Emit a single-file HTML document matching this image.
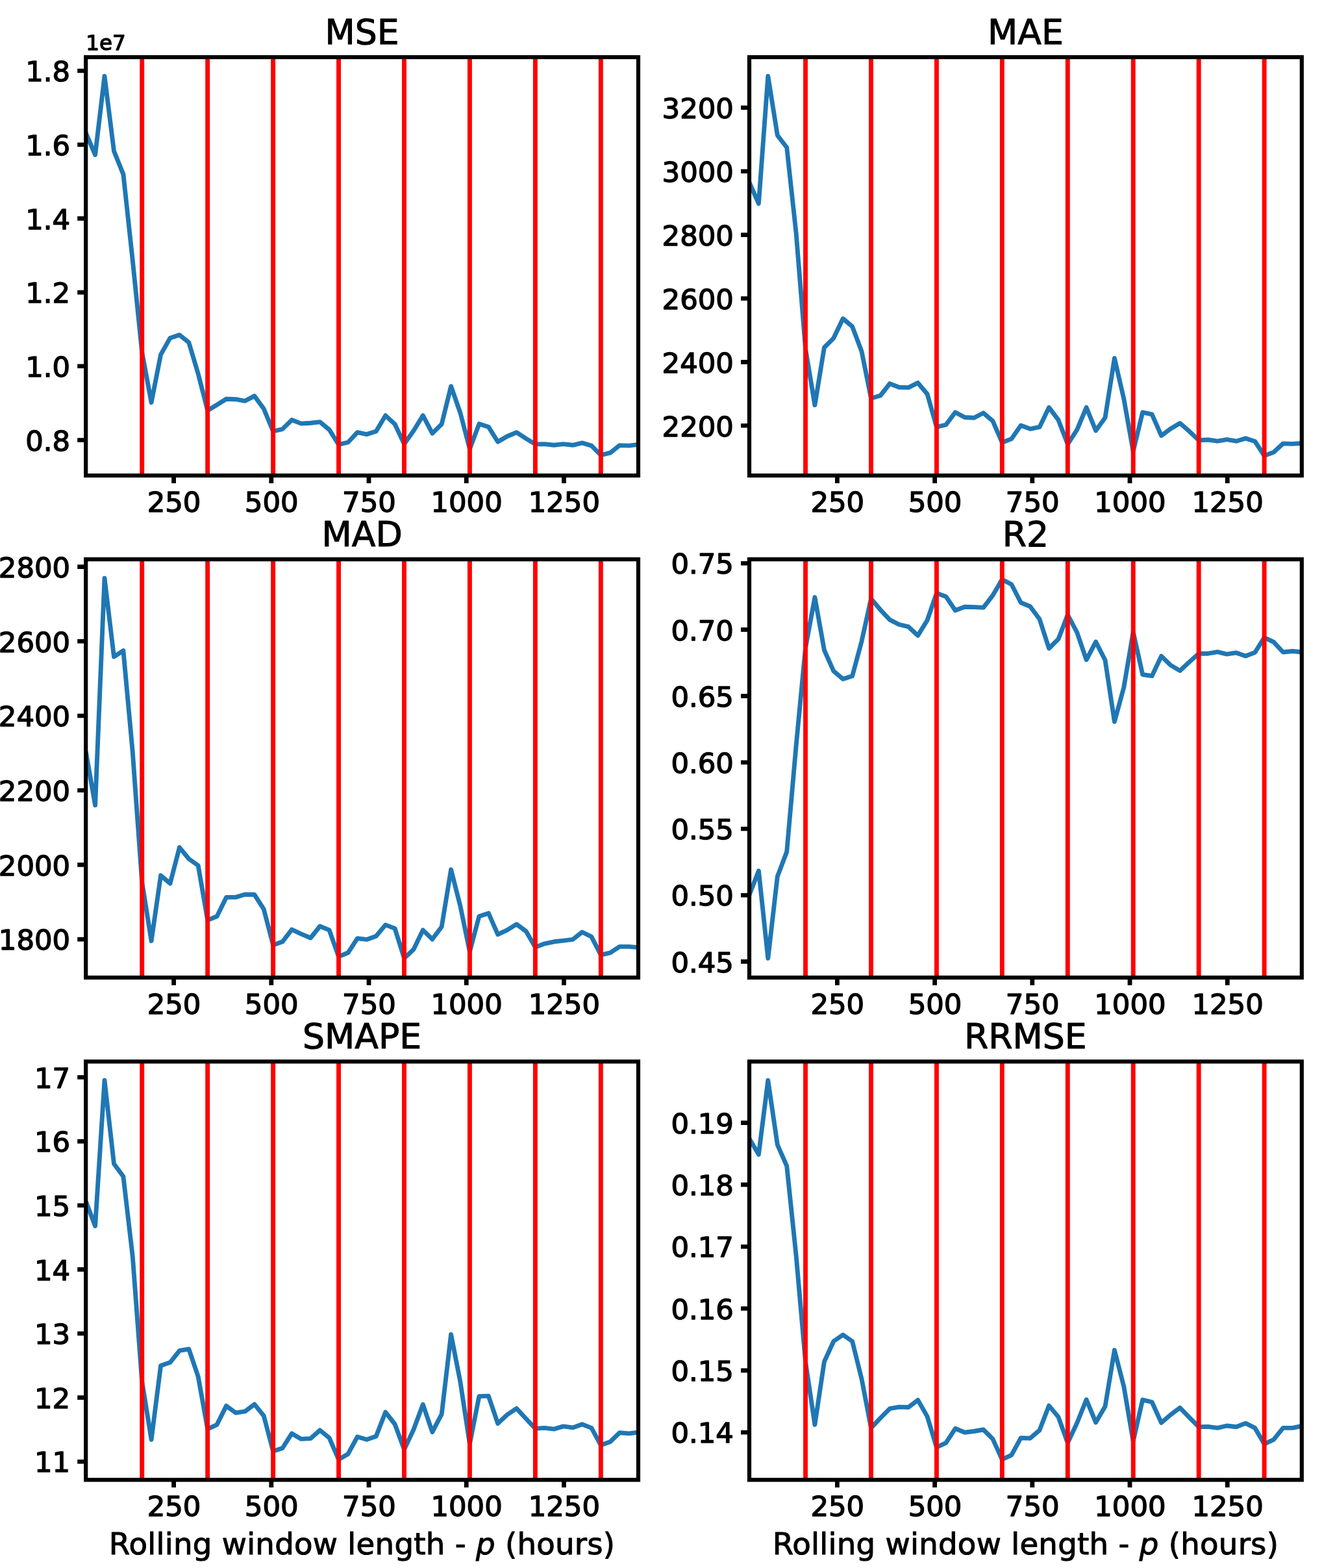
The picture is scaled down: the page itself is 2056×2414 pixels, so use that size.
<!DOCTYPE html>
<html lang="en"><head><meta charset="utf-8"><title>Error metrics vs rolling window length</title>
<style>
html,body{margin:0;padding:0;background:#fff;}
body{width:2056px;height:2414px;overflow:hidden;}
svg{display:block;filter:blur(0.45px);}
text{font-family:"DejaVu Sans","Liberation Sans",sans-serif;fill:#000;stroke:#000;stroke-width:1.4px;stroke-linejoin:round;}
.tk{font-size:43.33px;}
.tt{font-size:53.6px;text-anchor:middle;stroke-width:1.1px;}
.of{font-size:32.6px;}
.xl{font-size:46.67px;text-anchor:middle;letter-spacing:0.26px;stroke-width:1.05px;}
.xt{text-anchor:middle;}.yt{text-anchor:end;}
.sp{fill:none;stroke:#000;stroke-width:6.2;stroke-linejoin:miter;}
.tm{stroke:#000;stroke-width:6.2;fill:none;}
.vl{stroke:#ff0000;stroke-width:6.9;fill:none;}
.ln{stroke:#1f77b4;stroke-width:6.9;fill:none;stroke-linejoin:round;stroke-linecap:butt;}
</style></head><body>
<svg width="2056" height="2414" viewBox="0 0 2056 2414">
<rect x="0" y="0" width="2056" height="2414" fill="#ffffff"/>
<defs>
<clipPath id="c0"><rect x="132.20" y="88.00" width="850.80" height="644.10"/></clipPath>
<clipPath id="c1"><rect x="1154.00" y="88.00" width="850.80" height="644.10"/></clipPath>
<clipPath id="c2"><rect x="132.20" y="861.10" width="850.80" height="643.90"/></clipPath>
<clipPath id="c3"><rect x="1154.00" y="861.10" width="850.80" height="643.90"/></clipPath>
<clipPath id="c4"><rect x="132.20" y="1634.30" width="850.80" height="644.00"/></clipPath>
<clipPath id="c5"><rect x="1154.00" y="1634.30" width="850.80" height="644.00"/></clipPath>
</defs>
<g id="ax-mse">
<polyline class="ln" clip-path="url(#c0)" points="132.2,204.6 146.6,238.3 161.0,117.2 175.5,232.6 189.9,268.4 204.3,401.0 218.7,542.5 233.1,619.5 247.6,545.9 262.0,520.4 276.4,515.6 290.8,527.2 305.2,575.6 319.7,632.0 334.1,623.2 348.5,614.2 362.9,614.7 377.3,617.3 391.8,609.6 406.2,629.2 420.6,664.0 435.0,660.6 449.4,646.5 463.9,652.1 478.3,651.3 492.7,649.6 507.1,661.5 521.5,684.4 536.0,681.0 550.4,665.7 564.8,668.6 579.2,664.0 593.7,639.7 608.1,653.0 622.5,683.6 636.9,663.2 651.3,639.7 665.8,667.1 680.2,653.0 694.6,594.7 709.0,636.0 723.4,691.2 737.9,652.6 752.3,657.2 766.7,680.2 781.1,671.7 795.5,665.7 810.0,675.1 824.4,683.9 838.8,683.6 853.2,685.3 867.6,683.6 882.1,685.3 896.5,681.9 910.9,686.1 925.3,700.6 939.7,697.2 954.2,685.6 968.6,686.1 983.0,684.4"/>
<path class="vl" d="M218.72 88.00V732.10M319.66 88.00V732.10M420.61 88.00V732.10M521.55 88.00V732.10M622.49 88.00V732.10M723.43 88.00V732.10M824.38 88.00V732.10M925.32 88.00V732.10"/>
<path class="tm" style="stroke-width:6.8" d="M267.59 732.10v11.80M417.80 732.10v11.80M568.02 732.10v11.80M718.23 732.10v11.80M868.44 732.10v11.80"/>
<path class="tm" style="stroke-width:6.6" d="M132.20 109.00h-13.00M132.20 222.70h-13.00M132.20 336.40h-13.00M132.20 450.10h-13.00M132.20 563.80h-13.00M132.20 677.50h-13.00"/>
<rect class="sp" x="132.20" y="88.00" width="850.80" height="644.10"/>
<text class="tk xt" x="267.99" y="788.00">250</text>
<text class="tk xt" x="418.20" y="788.00">500</text>
<text class="tk xt" x="568.42" y="788.00">750</text>
<text class="tk xt" x="718.63" y="788.00">1000</text>
<text class="tk xt" x="868.84" y="788.00">1250</text>
<text class="tk yt" x="108.10" y="125.20">1.8</text>
<text class="tk yt" x="108.10" y="238.90">1.6</text>
<text class="tk yt" x="108.10" y="352.60">1.4</text>
<text class="tk yt" x="108.10" y="466.30">1.2</text>
<text class="tk yt" x="108.10" y="580.00">1.0</text>
<text class="tk yt" x="108.10" y="693.70">0.8</text>
<text class="of" x="132.20" y="77.40">1e7</text>
<text class="tt" x="557.60" y="68.00">MSE</text>
</g>
<g id="ax-mae">
<polyline class="ln" clip-path="url(#c1)" points="1154.0,281.0 1168.4,313.3 1182.8,117.2 1197.3,208.3 1211.7,227.0 1226.1,359.0 1240.5,536.7 1254.9,623.6 1269.4,535.0 1283.8,520.6 1298.2,490.5 1312.6,502.7 1327.0,541.0 1341.5,613.2 1355.9,609.0 1370.3,590.6 1384.7,596.2 1399.1,596.6 1413.6,589.4 1428.0,606.4 1442.4,657.4 1456.8,654.0 1471.2,634.8 1485.7,642.5 1500.1,643.3 1514.5,635.8 1528.9,648.1 1543.3,681.2 1557.8,675.6 1572.2,654.9 1586.6,660.3 1601.0,657.4 1615.5,627.3 1629.9,646.4 1644.3,683.8 1658.7,661.7 1673.1,627.3 1687.6,663.0 1702.0,643.0 1716.4,551.5 1730.8,614.1 1745.2,694.8 1759.7,634.8 1774.1,637.9 1788.5,670.7 1802.9,660.0 1817.3,651.5 1831.8,664.2 1846.2,677.8 1860.6,677.0 1875.0,679.2 1889.4,676.6 1903.9,679.2 1918.3,674.9 1932.7,679.5 1947.1,701.6 1961.5,696.2 1976.0,682.9 1990.4,683.4 2004.8,682.4"/>
<path class="vl" d="M1240.52 88.00V732.10M1341.46 88.00V732.10M1442.41 88.00V732.10M1543.35 88.00V732.10M1644.29 88.00V732.10M1745.23 88.00V732.10M1846.18 88.00V732.10M1947.12 88.00V732.10"/>
<path class="tm" style="stroke-width:6.8" d="M1289.39 732.10v11.80M1439.60 732.10v11.80M1589.82 732.10v11.80M1740.03 732.10v11.80M1890.24 732.10v11.80"/>
<path class="tm" style="stroke-width:6.6" d="M1154.00 165.80h-13.00M1154.00 263.70h-13.00M1154.00 361.60h-13.00M1154.00 459.50h-13.00M1154.00 557.40h-13.00M1154.00 655.30h-13.00"/>
<rect class="sp" x="1154.00" y="88.00" width="850.80" height="644.10"/>
<text class="tk xt" x="1289.79" y="788.00">250</text>
<text class="tk xt" x="1440.00" y="788.00">500</text>
<text class="tk xt" x="1590.22" y="788.00">750</text>
<text class="tk xt" x="1740.43" y="788.00">1000</text>
<text class="tk xt" x="1890.64" y="788.00">1250</text>
<text class="tk yt" x="1129.90" y="182.00">3200</text>
<text class="tk yt" x="1129.90" y="279.90">3000</text>
<text class="tk yt" x="1129.90" y="377.80">2800</text>
<text class="tk yt" x="1129.90" y="475.70">2600</text>
<text class="tk yt" x="1129.90" y="573.60">2400</text>
<text class="tk yt" x="1129.90" y="671.50">2200</text>
<text class="tt" x="1579.40" y="68.00">MAE</text>
</g>
<g id="ax-mad">
<polyline class="ln" clip-path="url(#c2)" points="132.2,1157.0 146.6,1239.6 161.0,890.2 175.5,1011.1 189.9,1001.7 204.3,1158.2 218.7,1358.0 233.1,1448.6 247.6,1347.8 262.0,1360.2 276.4,1304.6 290.8,1322.3 305.2,1332.5 319.7,1416.6 334.1,1410.7 348.5,1381.4 362.9,1381.4 377.3,1377.0 391.8,1377.2 406.2,1399.6 420.6,1454.9 435.0,1449.8 449.4,1431.1 463.9,1437.9 478.3,1444.0 492.7,1426.0 507.1,1431.9 521.5,1472.7 536.0,1466.8 550.4,1444.7 564.8,1446.4 579.2,1441.3 593.7,1423.9 608.1,1429.4 622.5,1475.3 636.9,1461.7 651.3,1431.9 665.8,1446.0 680.2,1426.8 694.6,1338.8 709.0,1395.4 723.4,1465.1 737.9,1410.7 752.3,1405.9 766.7,1438.7 781.1,1431.9 795.5,1422.9 810.0,1433.6 824.4,1458.3 838.8,1452.8 853.2,1449.8 867.6,1448.1 882.1,1446.4 896.5,1435.0 910.9,1442.1 925.3,1470.2 939.7,1466.8 954.2,1457.4 968.6,1457.4 983.0,1458.6"/>
<path class="vl" d="M218.72 861.10V1505.00M319.66 861.10V1505.00M420.61 861.10V1505.00M521.55 861.10V1505.00M622.49 861.10V1505.00M723.43 861.10V1505.00M824.38 861.10V1505.00M925.32 861.10V1505.00"/>
<path class="tm" style="stroke-width:6.8" d="M267.59 1505.00v11.80M417.80 1505.00v11.80M568.02 1505.00v11.80M718.23 1505.00v11.80M868.44 1505.00v11.80"/>
<path class="tm" style="stroke-width:6.6" d="M132.20 872.60h-13.00M132.20 987.30h-13.00M132.20 1102.00h-13.00M132.20 1216.70h-13.00M132.20 1331.40h-13.00M132.20 1446.10h-13.00"/>
<rect class="sp" x="132.20" y="861.10" width="850.80" height="643.90"/>
<text class="tk xt" x="267.99" y="1560.90">250</text>
<text class="tk xt" x="418.20" y="1560.90">500</text>
<text class="tk xt" x="568.42" y="1560.90">750</text>
<text class="tk xt" x="718.63" y="1560.90">1000</text>
<text class="tk xt" x="868.84" y="1560.90">1250</text>
<text class="tk yt" x="108.10" y="888.80">2800</text>
<text class="tk yt" x="108.10" y="1003.50">2600</text>
<text class="tk yt" x="108.10" y="1118.20">2400</text>
<text class="tk yt" x="108.10" y="1232.90">2200</text>
<text class="tk yt" x="108.10" y="1347.60">2000</text>
<text class="tk yt" x="108.10" y="1462.30">1800</text>
<text class="tt" x="557.60" y="841.10">MAD</text>
</g>
<g id="ax-r2">
<polyline class="ln" clip-path="url(#c3)" points="1154.0,1377.8 1168.4,1340.7 1182.8,1475.3 1197.3,1349.5 1211.7,1311.2 1226.1,1148.0 1240.5,997.5 1254.9,919.6 1269.4,1000.9 1283.8,1033.2 1298.2,1045.4 1312.6,1040.8 1327.0,987.3 1341.5,921.7 1355.9,938.8 1370.3,954.1 1384.7,961.5 1399.1,964.9 1413.6,978.4 1428.0,955.0 1442.4,913.3 1456.8,918.4 1471.2,939.7 1485.7,934.3 1500.1,934.6 1514.5,935.4 1528.9,916.7 1543.3,892.1 1557.8,899.7 1572.2,927.8 1586.6,933.7 1601.0,953.3 1615.5,998.3 1629.9,983.9 1644.3,946.5 1658.7,973.7 1673.1,1015.8 1687.6,988.1 1702.0,1016.2 1716.4,1111.1 1730.8,1058.1 1745.2,973.1 1759.7,1038.5 1774.1,1040.7 1788.5,1010.1 1802.9,1024.1 1817.3,1032.6 1831.8,1019.0 1846.2,1006.2 1860.6,1006.2 1875.0,1003.7 1889.4,1007.1 1903.9,1004.9 1918.3,1010.0 1932.7,1004.5 1947.1,981.6 1961.5,988.4 1976.0,1004.0 1990.4,1002.5 2004.8,1004.0"/>
<path class="vl" d="M1240.52 861.10V1505.00M1341.46 861.10V1505.00M1442.41 861.10V1505.00M1543.35 861.10V1505.00M1644.29 861.10V1505.00M1745.23 861.10V1505.00M1846.18 861.10V1505.00M1947.12 861.10V1505.00"/>
<path class="tm" style="stroke-width:6.8" d="M1289.39 1505.00v11.80M1439.60 1505.00v11.80M1589.82 1505.00v11.80M1740.03 1505.00v11.80M1890.24 1505.00v11.80"/>
<path class="tm" style="stroke-width:6.6" d="M1154.00 867.20h-13.00M1154.00 969.40h-13.00M1154.00 1071.60h-13.00M1154.00 1173.80h-13.00M1154.00 1276.00h-13.00M1154.00 1378.20h-13.00M1154.00 1480.40h-13.00"/>
<rect class="sp" x="1154.00" y="861.10" width="850.80" height="643.90"/>
<text class="tk xt" x="1289.79" y="1560.90">250</text>
<text class="tk xt" x="1440.00" y="1560.90">500</text>
<text class="tk xt" x="1590.22" y="1560.90">750</text>
<text class="tk xt" x="1740.43" y="1560.90">1000</text>
<text class="tk xt" x="1890.64" y="1560.90">1250</text>
<text class="tk yt" x="1129.90" y="883.40">0.75</text>
<text class="tk yt" x="1129.90" y="985.60">0.70</text>
<text class="tk yt" x="1129.90" y="1087.80">0.65</text>
<text class="tk yt" x="1129.90" y="1190.00">0.60</text>
<text class="tk yt" x="1129.90" y="1292.20">0.55</text>
<text class="tk yt" x="1129.90" y="1394.40">0.50</text>
<text class="tk yt" x="1129.90" y="1496.60">0.45</text>
<text class="tt" x="1579.40" y="841.10">R2</text>
</g>
<g id="ax-smape">
<polyline class="ln" clip-path="url(#c4)" points="132.2,1849.6 146.6,1887.5 161.0,1663.2 175.5,1791.7 189.9,1811.3 204.3,1934.6 218.7,2127.0 233.1,2216.3 247.6,2102.4 262.0,2097.6 276.4,2079.4 290.8,2076.9 305.2,2119.4 319.7,2200.1 334.1,2193.3 348.5,2164.4 362.9,2175.1 377.3,2172.9 391.8,2161.9 406.2,2179.7 420.6,2234.1 435.0,2229.5 449.4,2206.9 463.9,2215.4 478.3,2214.6 492.7,2201.8 507.1,2213.7 521.5,2246.9 536.0,2238.4 550.4,2212.0 564.8,2216.3 579.2,2211.2 593.7,2174.1 608.1,2192.5 622.5,2231.6 636.9,2201.0 651.3,2162.2 665.8,2204.7 680.2,2177.2 694.6,2054.5 709.0,2127.9 723.4,2223.1 737.9,2149.6 752.3,2149.1 766.7,2191.6 781.1,2178.0 795.5,2168.3 810.0,2184.0 824.4,2199.3 838.8,2198.4 853.2,2200.1 867.6,2195.9 882.1,2197.9 896.5,2192.8 910.9,2198.4 925.3,2224.8 939.7,2219.7 954.2,2205.7 968.6,2206.9 983.0,2205.2"/>
<path class="vl" d="M218.72 1634.30V2278.30M319.66 1634.30V2278.30M420.61 1634.30V2278.30M521.55 1634.30V2278.30M622.49 1634.30V2278.30M723.43 1634.30V2278.30M824.38 1634.30V2278.30M925.32 1634.30V2278.30"/>
<path class="tm" style="stroke-width:6.8" d="M267.59 2278.30v11.80M417.80 2278.30v11.80M568.02 2278.30v11.80M718.23 2278.30v11.80M868.44 2278.30v11.80"/>
<path class="tm" style="stroke-width:6.6" d="M132.20 1658.50h-13.00M132.20 1757.12h-13.00M132.20 1855.73h-13.00M132.20 1954.35h-13.00M132.20 2052.97h-13.00M132.20 2151.58h-13.00M132.20 2250.20h-13.00"/>
<rect class="sp" x="132.20" y="1634.30" width="850.80" height="644.00"/>
<text class="tk xt" x="267.99" y="2334.20">250</text>
<text class="tk xt" x="418.20" y="2334.20">500</text>
<text class="tk xt" x="568.42" y="2334.20">750</text>
<text class="tk xt" x="718.63" y="2334.20">1000</text>
<text class="tk xt" x="868.84" y="2334.20">1250</text>
<text class="tk yt" x="108.10" y="1674.70">17</text>
<text class="tk yt" x="108.10" y="1773.32">16</text>
<text class="tk yt" x="108.10" y="1871.93">15</text>
<text class="tk yt" x="108.10" y="1970.55">14</text>
<text class="tk yt" x="108.10" y="2069.17">13</text>
<text class="tk yt" x="108.10" y="2167.78">12</text>
<text class="tk yt" x="108.10" y="2266.40">11</text>
<text class="tt" x="557.60" y="1614.30">SMAPE</text>
<text class="xl" x="557.60" y="2392.80">Rolling window length - <tspan font-style="italic">p</tspan> (hours)</text>
</g>
<g id="ax-rrmse">
<polyline class="ln" clip-path="url(#c5)" points="1154.0,1753.1 1168.4,1777.3 1182.8,1663.2 1197.3,1762.3 1211.7,1795.1 1226.1,1932.9 1240.5,2096.4 1254.9,2193.3 1269.4,2096.4 1283.8,2065.0 1298.2,2055.0 1312.6,2065.0 1327.0,2122.8 1341.5,2198.4 1355.9,2183.1 1370.3,2168.7 1384.7,2166.1 1399.1,2166.5 1413.6,2155.4 1428.0,2180.6 1442.4,2228.2 1456.8,2221.4 1471.2,2199.3 1485.7,2205.2 1500.1,2203.5 1514.5,2201.0 1528.9,2215.4 1543.3,2246.9 1557.8,2240.1 1572.2,2213.7 1586.6,2214.2 1601.0,2201.8 1615.5,2164.1 1629.9,2181.4 1644.3,2221.4 1658.7,2190.8 1673.1,2154.7 1687.6,2189.9 1702.0,2165.3 1716.4,2078.6 1730.8,2134.7 1745.2,2218.8 1759.7,2155.1 1774.1,2158.5 1788.5,2190.4 1802.9,2178.0 1817.3,2167.3 1831.8,2182.3 1846.2,2196.7 1860.6,2196.4 1875.0,2198.4 1889.4,2195.0 1903.9,2196.7 1918.3,2191.1 1932.7,2198.4 1947.1,2223.1 1961.5,2216.3 1976.0,2198.4 1990.4,2198.4 2004.8,2195.5"/>
<path class="vl" d="M1240.52 1634.30V2278.30M1341.46 1634.30V2278.30M1442.41 1634.30V2278.30M1543.35 1634.30V2278.30M1644.29 1634.30V2278.30M1745.23 1634.30V2278.30M1846.18 1634.30V2278.30M1947.12 1634.30V2278.30"/>
<path class="tm" style="stroke-width:6.8" d="M1289.39 2278.30v11.80M1439.60 2278.30v11.80M1589.82 2278.30v11.80M1740.03 2278.30v11.80M1890.24 2278.30v11.80"/>
<path class="tm" style="stroke-width:6.6" d="M1154.00 1728.60h-13.00M1154.00 1823.92h-13.00M1154.00 1919.24h-13.00M1154.00 2014.56h-13.00M1154.00 2109.88h-13.00M1154.00 2205.20h-13.00"/>
<rect class="sp" x="1154.00" y="1634.30" width="850.80" height="644.00"/>
<text class="tk xt" x="1289.79" y="2334.20">250</text>
<text class="tk xt" x="1440.00" y="2334.20">500</text>
<text class="tk xt" x="1590.22" y="2334.20">750</text>
<text class="tk xt" x="1740.43" y="2334.20">1000</text>
<text class="tk xt" x="1890.64" y="2334.20">1250</text>
<text class="tk yt" x="1129.90" y="1744.80">0.19</text>
<text class="tk yt" x="1129.90" y="1840.12">0.18</text>
<text class="tk yt" x="1129.90" y="1935.44">0.17</text>
<text class="tk yt" x="1129.90" y="2030.76">0.16</text>
<text class="tk yt" x="1129.90" y="2126.08">0.15</text>
<text class="tk yt" x="1129.90" y="2221.40">0.14</text>
<text class="tt" x="1579.40" y="1614.30">RRMSE</text>
<text class="xl" x="1579.40" y="2392.80">Rolling window length - <tspan font-style="italic">p</tspan> (hours)</text>
</g>
</svg>
</body></html>
